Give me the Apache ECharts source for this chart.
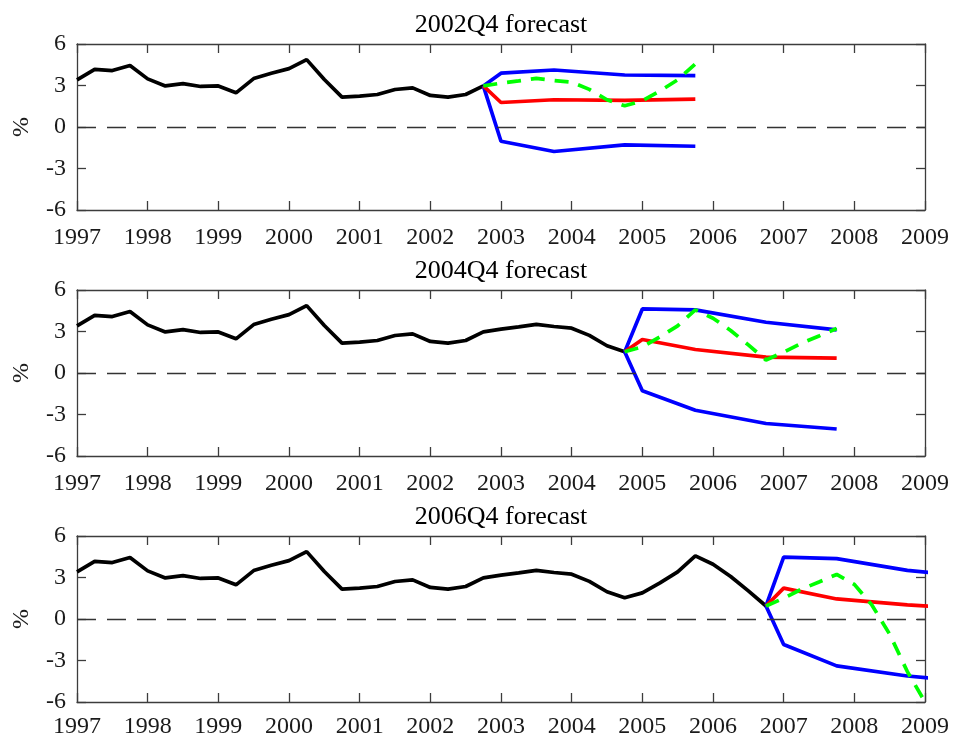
<!DOCTYPE html>
<html>
<head>
<meta charset="utf-8">
<script src="https://cdn.jsdelivr.net/npm/echarts@6/dist/echarts.min.js"></script>
<style>
  html, body { margin: 0; padding: 0; background: #ffffff; }
  #chart { width: 953px; height: 737px; }
</style>
</head>
<body>
<div id="chart"></div>
<script>
// Quarterly annual growth rate (%), 1997Q1 .. 2009Q1
const firstYear = 1997;
const actual = [
  3.41, 4.17, 4.08, 4.44,
  3.48, 2.97, 3.14, 2.93,
  2.97, 2.47, 3.50, 3.88,
  4.22, 4.87, 3.43, 2.16,
  2.23, 2.35, 2.71, 2.83,
  2.28, 2.16, 2.35, 2.97,
  3.17, 3.33, 3.52, 3.36,
  3.24, 2.72, 1.97, 1.53,
  1.89, 2.61, 3.41, 4.56,
  3.96, 3.07, 2.03, 0.94,
  1.50, 2.15, 2.68, 3.22,
  2.50, 1.00, -1.10, -3.80,
  -6.00
];

// Forecast origins and horizons (quarters ahead)
const origins = ['2002Q4', '2004Q4', '2006Q4'];
const horizons = [1, 4, 8, 12];

// Upper band, lower band and central forecast at each horizon
const upper2002 = [3.89, 4.12, 3.76, 3.72];
const lower2002 = [-1.03, -1.77, -1.29, -1.39];
const mean2002  = [1.77, 1.97, 1.92, 2.01];

const upper2004 = [4.63, 4.56, 3.67, 3.12];
const lower2004 = [-1.29, -2.69, -3.65, -4.05];
const mean2004  = [2.42, 1.70, 1.15, 1.08];

const upper2006 = [4.48, 4.36, 3.51, 3.03];
const lower2006 = [-1.84, -3.39, -4.12, -4.60];
const mean2006  = [2.23, 1.45, 1.02, 0.70];

const yTicks = [-6, -3, 0, 3, 6];
const xRange = [1997, 2009];

const forecasts = [
  { upper: upper2002, lower: lower2002, mean: mean2002 },
  { upper: upper2004, lower: lower2004, mean: mean2004 },
  { upper: upper2006, lower: lower2006, mean: mean2006 }
];

// ---- helpers ----
const qx = i => firstYear + i / 4;                 // quarter index -> decimal year
function originIndex(label) {
  const y = parseInt(label.slice(0, 4), 10);
  const q = parseInt(label.slice(5), 10);
  return (y - firstYear) * 4 + (q - 1);
}

const FONT = 'Liberation Serif';
const TEXT = '#1a1a1a';
const FRAME = '#3c3c3c';
const LW = 3.7;

const panelTops = [44, 290, 536];
const panelHeight = 166;
const labelMargins = [16, 16, 13];

const grids = [], xAxes = [], yAxes = [], series = [], titles = [];

origins.forEach((orig, p) => {
  const oi = originIndex(orig);
  const f = forecasts[p];

  grids.push({ left: 77, right: 28, top: panelTops[p], height: panelHeight, containLabel: false, outerBoundsMode: 'none' });

  titles.push({
    text: orig + ' forecast',
    left: 501,
    textAlign: 'center',
    top: panelTops[p] - 32,
    padding: 0,
    textStyle: { fontFamily: FONT, fontSize: 26, fontWeight: 'normal', color: '#000' }
  });

  const axisLine = { show: true, onZero: false, lineStyle: { color: FRAME, width: 1.3 } };
  const tick = { show: true, inside: true, length: 9, lineStyle: { color: FRAME, width: 1.3 } };

  // bottom x axis with labels
  xAxes.push({
    type: 'value', gridIndex: p, min: xRange[0], max: xRange[1], interval: 1,
    position: 'bottom', axisLine, axisTick: tick, splitLine: { show: false },
    axisLabel: { fontFamily: FONT, fontSize: 24, color: TEXT, margin: labelMargins[p], formatter: v => String(v) }
  });
  // top x axis (ticks only)
  xAxes.push({
    type: 'value', gridIndex: p, min: xRange[0], max: xRange[1], interval: 1,
    position: 'top', axisLine, axisTick: tick, splitLine: { show: false },
    axisLabel: { show: false }
  });
  // left y axis with labels
  yAxes.push({
    type: 'value', gridIndex: p, min: yTicks[0], max: yTicks[yTicks.length - 1], interval: 3,
    position: 'left', axisLine, axisTick: tick, splitLine: { show: false },
    name: '%', nameLocation: 'middle', nameRotate: 90, nameGap: 43,
    nameTextStyle: { fontFamily: FONT, fontSize: 24, color: TEXT },
    axisLabel: { fontFamily: FONT, fontSize: 24, color: TEXT, margin: 11 }
  });
  // right y axis (ticks only)
  yAxes.push({
    type: 'value', gridIndex: p, min: yTicks[0], max: yTicks[yTicks.length - 1], interval: 3,
    position: 'right', axisLine, axisTick: tick, splitLine: { show: false },
    axisLabel: { show: false }
  });

  const xi = p * 2, yi = p * 2;
  const base = { type: 'line', xAxisIndex: xi, yAxisIndex: yi, symbol: 'none', smooth: false, silent: true, animation: false };

  // history up to the origin
  const hist = [];
  for (let i = 0; i <= oi; i++) hist.push([qx(i), actual[i]]);
  series.push(Object.assign({}, base, {
    name: 'actual', data: hist, z: 3,
    lineStyle: { color: '#000000', width: LW },
    markLine: {
      silent: true, symbol: 'none', animation: false,
      label: { show: false },
      lineStyle: { color: '#333333', width: 1.3, type: [19, 11] },
      data: [{ yAxis: 0 }]
    }
  }));

  const fc = arr => [[qx(oi), actual[oi]]].concat(arr.map((v, k) => [qx(oi + horizons[k]), v]));

  series.push(Object.assign({}, base, { name: 'upper', data: fc(f.upper), z: 4, lineStyle: { color: '#0000ff', width: LW } }));
  series.push(Object.assign({}, base, { name: 'lower', data: fc(f.lower), z: 4, lineStyle: { color: '#0000ff', width: LW } }));
  series.push(Object.assign({}, base, { name: 'mean',  data: fc(f.mean),  z: 5, lineStyle: { color: '#ff0000', width: LW } }));

  // realised outcome over the forecast horizon
  const real = [];
  for (let i = oi; i <= Math.min(oi + 12, actual.length - 1); i++) real.push([qx(i), actual[i]]);
  series.push(Object.assign({}, base, { name: 'realised', data: real, z: 6, lineStyle: { color: '#00ff00', width: LW, type: [14, 10] } }));
});

const chart = echarts.init(document.getElementById('chart'), null, { renderer: 'canvas' });
chart.setOption({
  backgroundColor: '#ffffff',
  animation: false,
  title: titles,
  grid: grids,
  xAxis: xAxes,
  yAxis: yAxes,
  series: series
});
</script>
</body>
</html>
